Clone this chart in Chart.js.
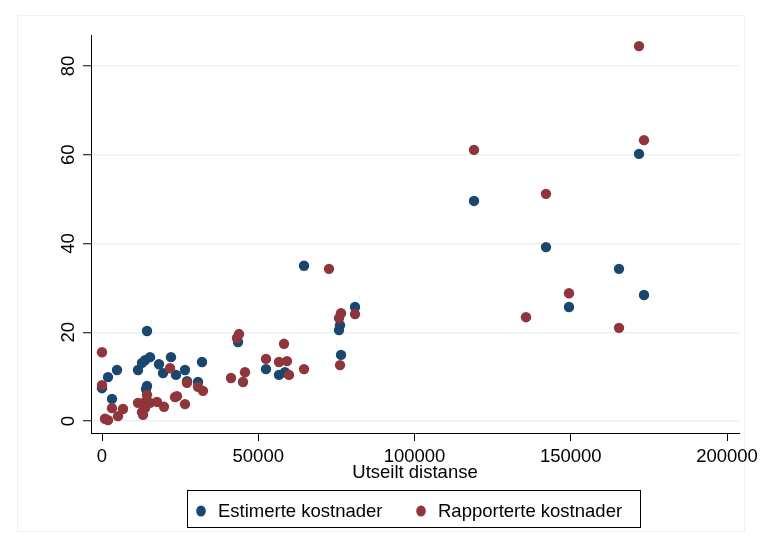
<!DOCTYPE html>
<html>
<head>
<meta charset="utf-8">
<script src="https://cdn.jsdelivr.net/npm/chart.js@4.4.1/dist/chart.umd.min.js"></script>
<style>
  html, body { margin: 0; padding: 0; background: #ffffff; }
  #wrap { position: relative; width: 760px; height: 542px; }
</style>
</head>
<body>
<div id="wrap"><canvas id="c" width="760" height="542"></canvas></div>
<script>
// Estimated costs vs. sailed distance
const distEstimert = [0, 1920, 3200, 4800, 11520, 12800, 13760, 14400, 14400, 14080, 15360,
  18240, 19520, 22080, 23680, 26560, 27200, 30720, 32000, 43520, 52480, 56640, 58560,
  64640, 75840, 76160, 76480, 80960, 119040, 142080, 149440, 165440, 171840, 173440];
const kostEstimert = [7.4, 9.9, 5.0, 11.5, 11.5, 13.1, 13.7, 20.3, 7.9, 7.2, 14.4,
  12.8, 10.8, 14.4, 10.4, 11.5, 9.0, 8.8, 13.3, 17.8, 11.7, 10.4, 11.0,
  35.0, 20.5, 21.6, 14.9, 25.7, 49.6, 39.2, 25.7, 34.3, 60.2, 28.4];

// Reported costs vs. sailed distance
const distRapportert = [0, 0, 960, 1920, 3200, 5120, 6720, 11520, 12800, 13120, 13760,
  13760, 14400, 15360, 17600, 19840, 21760, 23360, 24000, 26560, 27200, 30720, 32320,
  41280, 43200, 43840, 45120, 45760, 52480, 56640, 58240, 59200, 59840, 64640, 72640,
  75840, 76480, 76160, 80960, 119040, 135680, 142080, 149440, 165440, 171840, 173440];
const kostRapportert = [15.5, 8.1, 0.5, 0.2, 2.9, 1.1, 2.7, 4.1, 2.0, 1.4, 4.3,
  2.9, 5.9, 4.1, 4.3, 3.2, 11.9, 5.4, 5.6, 3.8, 8.6, 7.7, 6.8,
  9.7, 18.7, 19.6, 8.8, 11.0, 14.0, 13.3, 17.4, 13.5, 10.4, 11.7, 34.3,
  23.2, 24.3, 12.6, 24.1, 61.1, 23.4, 51.2, 28.8, 21.0, 84.5, 63.3];

const seriesNames = ['Estimerte kostnader', 'Rapporterte kostnader'];
const xTicks = [0, 50000, 100000, 150000, 200000];
const yTicks = [0, 20, 40, 60, 80];
const xTitle = 'Utseilt distanse';

const BLUE = '#1a476f';
const RED = '#90353b';
const FONT = "'Liberation Sans', Arial, sans-serif";
const FSIZE = 18.5;

const toPoints = (xs, ys) => xs.map((x, i) => ({ x: x, y: ys[i] }));

// faint frame around the graph region
const framePlugin = {
  id: 'frame',
  beforeDraw(chart) {
    const ctx = chart.ctx;
    ctx.save();
    ctx.fillStyle = '#ffffff';
    ctx.fillRect(0, 0, chart.width, chart.height);
    ctx.strokeStyle = '#f1f1f1';
    ctx.lineWidth = 1;
    ctx.strokeRect(17.5, 15.5, 727, 516);
    ctx.restore();
  }
};

// rotated y tick labels, placed from the y scale
const yLabelPlugin = {
  id: 'yLabels',
  afterDraw(chart) {
    const ctx = chart.ctx;
    const ys = chart.scales.y;
    ctx.save();
    ctx.fillStyle = '#000';
    ctx.font = FSIZE + 'px ' + FONT;
    ctx.textAlign = 'center';
    ctx.textBaseline = 'middle';
    ys.ticks.forEach(t => {
      const py = ys.getPixelForValue(t.value);
      ctx.save();
      ctx.translate(ys.right - 22, py);
      ctx.rotate(-Math.PI / 2);
      ctx.fillText(String(t.value), 0, 0);
      ctx.restore();
    });
    ctx.restore();
  }
};

// boxed legend below the axis title
const legendPlugin = {
  id: 'boxLegend',
  afterDraw(chart) {
    const ctx = chart.ctx;
    ctx.save();
    ctx.strokeStyle = '#000';
    ctx.lineWidth = 1;
    ctx.strokeRect(187.5, 490.5, 453, 37);
    ctx.font = FSIZE + 'px ' + FONT;
    ctx.textBaseline = 'middle';
    ctx.textAlign = 'left';
    const items = [
      { ds: chart.data.datasets[0], mx: 201, tx: 218 },
      { ds: chart.data.datasets[1], mx: 421, tx: 438 }
    ];
    items.forEach(it => {
      ctx.fillStyle = it.ds.backgroundColor;
      ctx.beginPath();
      ctx.ellipse(it.mx, 511, 4.8, 5.6, 0, 0, Math.PI * 2);
      ctx.fill();
      ctx.fillStyle = '#000';
      ctx.fillText(it.ds.label, it.tx, 512);
    });
    ctx.restore();
  }
};

new Chart(document.getElementById('c'), {
  type: 'scatter',
  data: {
    datasets: [
      {
        label: seriesNames[0],
        data: toPoints(distEstimert, kostEstimert),
        backgroundColor: BLUE,
        borderColor: BLUE,
        borderWidth: 0,
        pointRadius: 5.2,
        order: 1
      },
      {
        label: seriesNames[1],
        data: toPoints(distRapportert, kostRapportert),
        backgroundColor: RED,
        borderColor: RED,
        borderWidth: 0,
        pointRadius: 5.2,
        order: 0
      }
    ]
  },
  options: {
    responsive: false,
    animation: false,
    events: [],
    layout: { padding: { left: 0, top: 35, right: 21, bottom: 58 } },
    plugins: {
      legend: { display: false },
      tooltip: { enabled: false }
    },
    scales: {
      x: {
        type: 'linear',
        position: 'bottom',
        min: -3520,
        max: 203840,
        afterFit(scale) {
          scale.height = 51;
          scale.paddingLeft = 0;
          scale.paddingRight = 0;
        },
        afterBuildTicks(scale) { scale.ticks = xTicks.map(v => ({ value: v })); },
        ticks: {
          includeBounds: false,
          color: '#000',
          font: { family: FONT, size: FSIZE },
          padding: 5,
          maxRotation: 0,
          callback: v => String(v)
        },
        grid: {
          drawOnChartArea: false,
          drawTicks: true,
          tickLength: 8,
          tickColor: '#000',
          tickWidth: 1
        },
        border: { color: '#000', width: 1 },
        title: {
          display: true,
          text: xTitle,
          color: '#000',
          font: { family: FONT, size: FSIZE },
          padding: { top: 0, bottom: 0 }
        }
      },
      y: {
        type: 'linear',
        min: -2.7,
        max: 87,
        afterFit(scale) {
          scale.width = 91;
          scale.paddingTop = 0;
          scale.paddingBottom = 0;
        },
        afterBuildTicks(scale) { scale.ticks = yTicks.map(v => ({ value: v })); },
        ticks: { display: false, includeBounds: false },
        grid: {
          color: '#eaf1f3',
          lineWidth: 1.5,
          drawTicks: true,
          tickLength: 8,
          tickColor: '#000',
          tickWidth: 1
        },
        border: { color: '#000', width: 1 }
      }
    }
  },
  plugins: [framePlugin, yLabelPlugin, legendPlugin]
});
</script>
</body>
</html>
